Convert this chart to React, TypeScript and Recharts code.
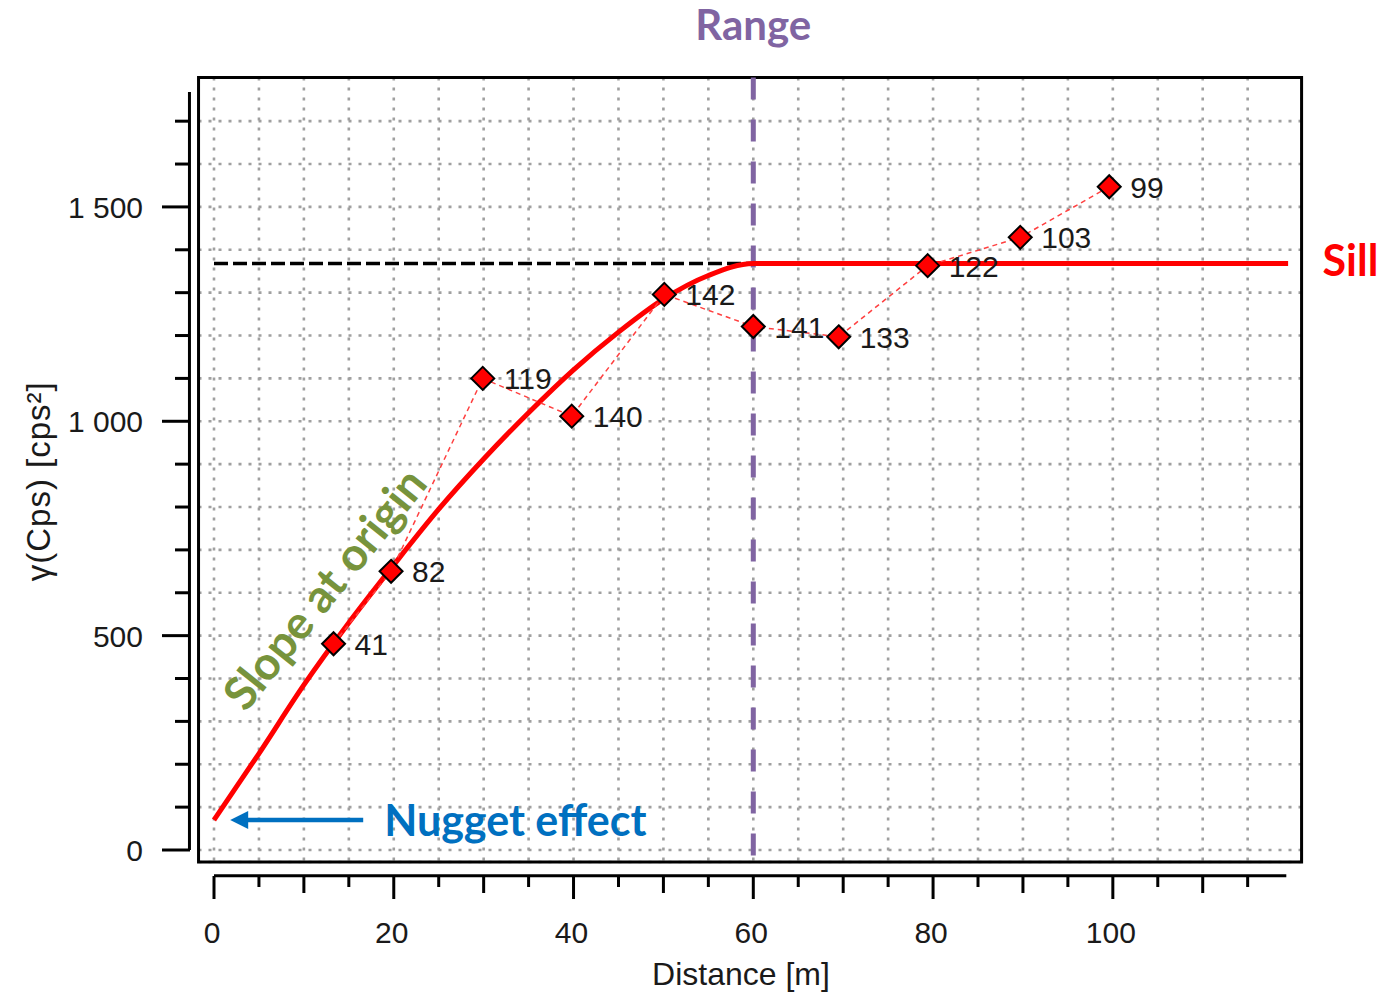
import {
  ComposedChart,
  Line,
  Scatter,
  XAxis,
  YAxis,
  CartesianGrid,
  ReferenceLine,
  ReferenceArea,
  ReferenceDot,
} from "recharts";

// experimental variogram: mean lag distance [m], semivariance [cps²], pairs per lag
const lagDistance = [13.3, 19.7, 29.9, 39.8, 50.1, 60.0, 69.5, 79.4, 89.7, 99.6];
const semivariance = [481, 650, 1100, 1012, 1296, 1221, 1197, 1363, 1429, 1547];
const pairCounts = [41, 82, 119, 140, 142, 141, 133, 122, 103, 99];

// fitted model, flat after the range
const modelDistance = [0, 5, 10, 15, 20, 25, 30, 35, 40, 45, 50, 55, 60, 119.5];
const modelGamma = [70, 225, 385, 530, 665, 795, 912, 1020, 1120, 1208, 1285, 1340, 1368, 1368];

const xTicks = [0, 5, 10, 15, 20, 25, 30, 35, 40, 45, 50, 55, 60, 65, 70, 75, 80, 85, 90, 95, 100, 105, 110, 115];
const yTicks = [0, 100, 200, 300, 400, 500, 600, 700, 800, 900, 1000, 1100, 1200, 1300, 1400, 1500, 1600, 1700];

const NUGGET = 70;
const SILL = 1368;
const RANGE = 60;

// plot frame and detached axis lines, in data units
const FRAME_X = [-1.72, 121.0];
const FRAME_Y = [-28, 1802];
const X_AXIS_Y = -60;
const X_AXIS_END = 119.3;
const Y_AXIS_X = -2.73;
const Y_AXIS_TOP = 1768;

const TICK_FONT = "'Liberation Sans', Arial, sans-serif";
const NOTE_FONT = "Lato, 'Open Sans', sans-serif";

const modelData = modelDistance.map((d, i) => ({ distance: d, gamma: modelGamma[i] }));
const experimentalData = lagDistance.map((d, i) => ({
  distance: d,
  gamma: semivariance[i],
  pairs: pairCounts[i],
}));

const fmtThousands = (v: number) =>
  v >= 1000 ? `${Math.floor(v / 1000)} ${String(v % 1000).padStart(3, "0")}` : String(v);

const XTick = (props: any) => {
  const { x, y, payload } = props;
  const v = payload.value;
  const len = v % 20 === 0 ? 23 : v % 10 === 0 ? 17 : 11;
  return (
    <g>
      <line x1={x} x2={x} y1={y + 14} y2={y + 14 + len} stroke="#000" strokeWidth={3} />
      {v % 20 === 0 && (
        <text x={x - 2} y={y + 81} textAnchor="middle" fontSize={30} fontFamily={TICK_FONT} fill="#1a1a1a">
          {v}
        </text>
      )}
    </g>
  );
};

const YTick = (props: any) => {
  const { x, y, payload } = props;
  const v = payload.value;
  const major = v % 500 === 0;
  const len = major ? 28 : 15;
  return (
    <g>
      <line x1={x - 8.5 - len} x2={x - 8.5} y1={y} y2={y} stroke="#000" strokeWidth={3} />
      {major && (
        <text x={x - 55.5} y={y + 11} textAnchor="end" fontSize={30} fontFamily={TICK_FONT} fill="#1a1a1a">
          {fmtThousands(v)}
        </text>
      )}
    </g>
  );
};

const Diamond = (props: any) => {
  const { cx, cy, payload } = props;
  const r = 11.5;
  return (
    <g>
      <polygon
        points={`${cx},${cy - r} ${cx + r},${cy} ${cx},${cy + r} ${cx - r},${cy}`}
        fill="#ff0000"
        stroke="#000"
        strokeWidth={2}
      />
      <text x={cx + 21} y={cy + 11} fontSize={30} fontFamily={TICK_FONT} fill="#1a1a1a">
        {payload.pairs}
      </text>
    </g>
  );
};

const NuggetArrow = (props: any) => {
  const { x1, y1, x2 } = props;
  const blue = "#0070c0";
  return (
    <g>
      <line x1={x1} y1={y1} x2={x2 + 16} y2={y1} stroke={blue} strokeWidth={4.5} />
      <polygon points={`${x2},${y1} ${x2 + 18},${y1 - 9} ${x2 + 18},${y1 + 9}`} fill={blue} />
      <text x={x1 + 21} y={y1 + 16} fontSize={43} fontWeight={700} fontFamily={NOTE_FONT} fill={blue}>
        Nugget effect
      </text>
    </g>
  );
};

const SlopeNote = (props: any) => {
  const { cx, cy } = props;
  return (
    <text
      x={cx}
      y={cy}
      dy={14}
      transform={`rotate(-51.3 ${cx} ${cy})`}
      textAnchor="middle"
      fontSize={46}
      fontWeight={700}
      fontFamily={NOTE_FONT}
      fill="#77933c"
    >
      Slope at origin
    </text>
  );
};

export default function App() {
  return (
    <div style={{ position: "absolute", left: 0, top: 0, width: 1384, height: 997, background: "#fff" }}>
      <ComposedChart width={1384} height={997} margin={{ top: 77.5, right: 82.5, left: 0, bottom: 0 }}>
        <CartesianGrid stroke="#a0a0a0" strokeWidth={2.6} strokeDasharray="3 7" />
        <XAxis
          dataKey="distance"
          type="number"
          domain={[0, 120]}
          ticks={xTicks}
          interval={0}
          padding={{ left: 15.5, right: 8.9 }}
          height={135}
          axisLine={false}
          tickLine={false}
          tickSize={0}
          tickMargin={0}
          tick={<XTick />}
          label={{
            value: "Distance [m]",
            position: "insideBottom",
            offset: 12,
            dx: -9,
            fontSize: 32,
            fontFamily: TICK_FONT,
            fill: "#1a1a1a",
          }}
        />
        <YAxis
          type="number"
          domain={[0, 1800]}
          ticks={yTicks}
          interval={0}
          padding={{ top: 0.8, bottom: 12 }}
          width={198.5}
          axisLine={false}
          tickLine={false}
          tickSize={0}
          tickMargin={0}
          tick={<YTick />}
          label={{
            content: ({ viewBox }: any) => {
              const cx = viewBox.x + 50;
              const cy = viewBox.y + viewBox.height / 2 + 11.5;
              return (
                <text
                  x={cx}
                  y={cy}
                  transform={`rotate(-90 ${cx} ${cy})`}
                  textAnchor="middle"
                  fontSize={33}
                  letterSpacing={1}
                  fontFamily={TICK_FONT}
                  fill="#1a1a1a"
                >
                  γ(Cps) [cps²]
                </text>
              );
            },
          }}
        />

        <ReferenceArea
          x1={FRAME_X[0]}
          x2={FRAME_X[1]}
          y1={FRAME_Y[0]}
          y2={FRAME_Y[1]}
          ifOverflow="visible"
          fill="none"
          stroke="#000"
          strokeWidth={3}
        />
        <ReferenceLine
          segment={[{ x: 0, y: X_AXIS_Y }, { x: X_AXIS_END, y: X_AXIS_Y }]}
          ifOverflow="visible"
          stroke="#000"
          strokeWidth={3}
        />
        <ReferenceLine
          segment={[{ x: Y_AXIS_X, y: 0 }, { x: Y_AXIS_X, y: Y_AXIS_TOP }]}
          ifOverflow="visible"
          stroke="#000"
          strokeWidth={3}
        />

        {/* sill level up to the range */}
        <ReferenceLine
          segment={[{ x: 0, y: SILL }, { x: RANGE, y: SILL }]}
          stroke="#000"
          strokeWidth={3.5}
          strokeDasharray="14 5"
        />
        <ReferenceLine
          segment={[{ x: RANGE, y: FRAME_Y[1] }, { x: RANGE, y: FRAME_Y[0] }]}
          ifOverflow="visible"
          stroke="#8064a2"
          strokeWidth={5}
          strokeDasharray="22 20"
          label={{
            value: "Range",
            position: "top",
            offset: 37,
            fill: "#8064a2",
            fontSize: 42,
            fontWeight: 700,
            fontFamily: NOTE_FONT,
          }}
        />

        <Line
          data={modelData}
          dataKey="gamma"
          type="monotone"
          stroke="#ff0000"
          strokeWidth={5}
          dot={false}
          isAnimationActive={false}
        />
        <Line
          data={experimentalData}
          dataKey="gamma"
          type="linear"
          stroke="#ff4040"
          strokeWidth={1.5}
          strokeDasharray="5 4"
          dot={false}
          isAnimationActive={false}
        />
        <Scatter data={experimentalData} dataKey="gamma" shape={<Diamond />} isAnimationActive={false} />

        <ReferenceLine
          segment={[{ x: 16.6, y: NUGGET }, { x: 1.8, y: NUGGET }]}
          shape={<NuggetArrow />}
        />
        <ReferenceDot x={12.5} y={606} r={0} shape={<SlopeNote />} />
        <ReferenceDot
          x={FRAME_X[1]}
          y={SILL}
          r={0}
          ifOverflow="visible"
          fill="none"
          stroke="none"
          label={{
            value: "Sill",
            position: "right",
            offset: 21,
            dy: -3,
            fill: "#ff0000",
            fontSize: 43,
            fontWeight: 700,
            fontFamily: NOTE_FONT,
          }}
        />
      </ComposedChart>
    </div>
  );
}
